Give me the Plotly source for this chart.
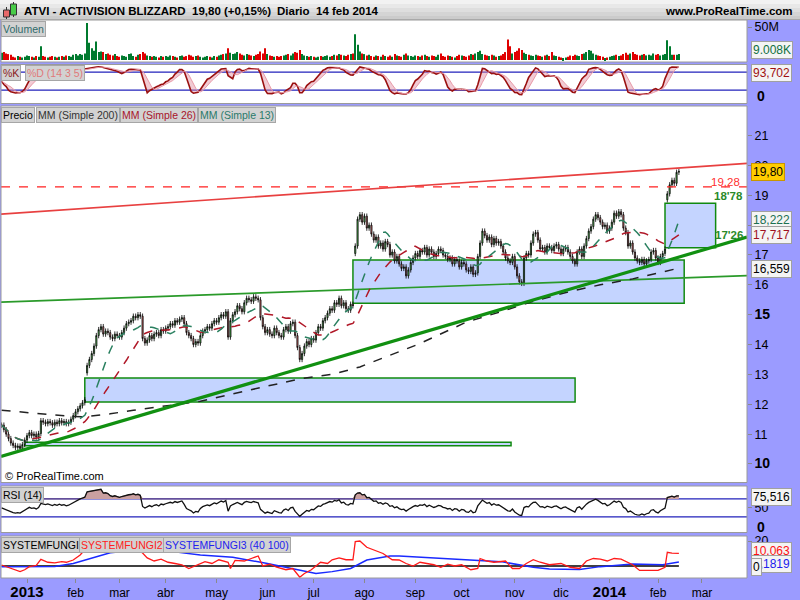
import numpy as np
import pandas as pd
import plotly.graph_objects as go

# ---------------- DATA ----------------
HOLIDAYS = ["2012-12-25", "2013-01-01", "2013-01-21", "2013-02-18", "2013-03-29",
            "2013-05-27", "2013-07-04", "2013-09-02", "2013-11-28", "2013-12-25",
            "2014-01-01", "2014-01-20", "2014-02-17"]
START_DATE = "2012-12-14"
END_AXIS_DATE = "2014-03-31"

CLOSES = [
    11.30, 11.15, 11.00, 10.85, 10.70, 10.62, 10.55, 10.60, 10.52, 10.65,
    10.80, 10.95, 11.05, 10.95, 11.00, 10.90, 11.02, 11.45, 11.40, 11.35,
    11.42, 11.38, 11.30, 11.40, 11.35, 11.45, 11.38, 11.42, 11.35, 11.40,
    11.50, 11.62, 11.75, 11.85, 11.95, 12.05, 12.15, 13.30, 13.50, 13.70,
    13.95, 14.30, 14.50, 14.60, 14.35, 14.45, 14.40, 14.25, 14.20, 14.35,
    14.30, 14.25, 14.40, 14.55, 14.70, 14.75, 14.80, 14.95, 14.90, 15.00,
    14.95, 14.20, 14.05, 14.15, 14.30, 14.20, 14.35, 14.40, 14.30, 14.50,
    14.45, 14.55, 14.60, 14.70, 14.65, 14.80, 14.75, 14.85, 14.90, 14.70,
    14.40, 14.30, 14.20, 14.00, 14.10, 14.05, 14.30, 14.45, 14.50, 14.60,
    14.55, 14.70, 14.80, 14.75, 14.90, 15.00, 14.95, 15.10, 14.25, 14.80,
    15.00, 15.10, 15.30, 15.20, 15.10, 15.40, 15.55, 15.50, 15.45, 15.60,
    15.55, 15.50, 14.90, 14.60, 14.40, 14.50, 14.35, 14.30, 14.55, 14.40,
    14.30, 14.25, 14.50, 14.60, 14.45, 14.70, 14.75, 14.30, 13.90, 13.50,
    13.70, 13.95, 14.10, 14.00, 14.20, 14.15, 14.40, 14.60, 14.55, 14.80,
    14.90, 15.05, 15.20, 15.15, 15.40, 15.35, 15.55, 15.30, 15.40, 15.20,
    15.15, 15.35, 15.30, 17.30, 18.20, 18.35, 18.10, 18.30, 17.90, 18.00,
    17.70, 17.50, 17.60, 17.30, 17.40, 17.20, 17.45, 17.35, 17.00, 17.10,
    16.80, 16.95, 16.70, 16.55, 16.60, 16.30, 16.50, 16.75, 16.90, 17.05,
    16.95, 17.15, 17.10, 17.25, 17.00, 17.20, 17.10, 16.95, 17.05, 17.20,
    17.15, 17.00, 16.95, 16.85, 16.90, 16.70, 16.85, 16.80, 16.60, 16.75,
    16.70, 16.50, 16.45, 16.60, 16.35, 16.40, 16.95, 17.40, 17.80, 17.65,
    17.50, 17.60, 17.35, 17.55, 17.40, 17.45, 17.30, 17.10, 16.90, 16.80,
    16.75, 16.95, 16.60, 16.30, 16.10, 16.05, 16.90, 17.05, 17.00, 17.40,
    17.70, 17.75, 17.50, 17.20, 17.25, 17.10, 17.30, 17.25, 17.15, 17.30,
    17.35, 17.20, 17.05, 17.20, 17.25, 17.10, 16.95, 16.80, 16.70, 17.10,
    17.20, 16.95, 17.30, 17.55, 17.80, 17.95, 18.20, 18.35, 18.25, 18.10,
    17.95, 18.00, 17.80, 17.90, 18.10, 18.40, 18.30, 18.45, 18.35, 17.90,
    17.75, 17.30, 17.40, 17.10, 16.90, 16.80, 16.75, 16.85, 16.70, 16.80,
    16.85, 17.10, 17.15, 16.90, 16.75, 16.95, 17.05, 17.20, 19.05, 19.35,
    19.50, 19.40, 19.77, 19.80,
]
GAP_OPEN_IDX = [37, 153, 288]
GAP_OPEN_VAL = [13.05, 17.05, 18.85]

VOLUMES = [
    11, 12, 10, 9, 8, 5, 4, 6, 5, 4, 5, 7, 6, 5, 4, 6, 5, 21, 6, 5,
    4, 5, 6, 5, 4, 5, 6, 5, 7, 6, 5, 8, 9, 7, 9, 8, 10, 56, 26, 18,
    14, 28, 12, 13, 12, 9, 10, 8, 7, 9, 6, 5, 7, 6, 5, 9, 10, 6, 5, 8,
    9, 12, 10, 7, 6, 5, 6, 5, 4, 6, 5, 6, 5, 7, 6, 5, 4, 6, 7, 5,
    6, 8, 7, 5, 6, 7, 5, 4, 5, 6, 5, 4, 6, 5, 7, 8, 9, 10, 18, 11,
    9, 10, 12, 10, 8, 7, 9, 8, 7, 6, 8, 9, 13, 10, 18, 9, 7, 6, 5, 6,
    5, 6, 7, 8, 9, 7, 10, 12, 11, 15, 9, 7, 6, 5, 6, 5, 4, 5, 6, 5,
    6, 7, 5, 6, 8, 7, 9, 8, 7, 6, 8, 9, 10, 39, 23, 13, 10, 9, 7, 8,
    6, 5, 7, 6, 5, 8, 6, 5, 7, 5, 9, 7, 6, 5, 8, 10, 7, 6, 5, 7,
    6, 5, 7, 8, 6, 5, 7, 6, 5, 8, 10, 6, 5, 7, 6, 5, 4, 6, 8, 7,
    6, 5, 7, 9, 8, 10, 12, 14, 9, 8, 7, 6, 8, 7, 5, 6, 7, 9, 12, 31,
    21, 10, 12, 14, 18, 15, 11, 9, 8, 7, 6, 8, 7, 6, 5, 7, 8, 6, 12, 7,
    6, 5, 4, 3, 4, 5, 7, 6, 8, 7, 6, 9, 10, 12, 15, 14, 10, 8, 7, 6,
    5, 3, 4, 5, 6, 7, 8, 6, 7, 9, 11, 8, 10, 12, 9, 8, 7, 8, 9, 7,
    8, 7, 10, 8, 9, 7, 8, 9, 30, 21, 8, 8, 8, 9,
]

MA200_IDX = [0, 14, 29, 36, 47, 57, 72, 86, 100, 115, 129, 144, 155, 180, 201, 216, 230, 247, 259, 273, 293]
MA200_VAL = [11.80, 11.70, 11.60, 11.58, 11.68, 11.80, 11.95, 12.10, 12.35, 12.60, 12.85, 13.02, 13.25,
             14.00, 14.75, 15.10, 15.45, 15.80, 16.00, 16.20, 16.56]

FUNGI2_IDX = [0, 4, 8, 10, 12, 15, 17, 20, 23, 26, 28, 31, 34, 36, 38, 43, 49, 56, 60, 61, 63, 66, 69, 72,
              75, 78, 81, 85, 88, 91, 94, 98, 99, 101, 105, 108, 111, 113, 116, 119, 123, 126, 129, 131,
              134, 138, 141, 143, 146, 149, 152, 153, 155, 158, 162, 165, 169, 172, 175, 178, 181, 187,
              190, 193, 196, 199, 203, 206, 207, 210, 213, 218, 221, 224, 227, 230, 233, 237, 242, 246,
              250, 253, 256, 259, 262, 265, 268, 271, 273, 276, 281, 284, 287, 288, 290, 293]
FUNGI2_VAL = [0.8, -1.9, -4.5, -3.0, -0.5, 0.5, 5.3, 3.0, 2.5, 3.5, 3.0, 4.8, 8.8, 13.0, 17.0, 20.0, 19.0,
              16.0, 12.0, 10.4, 6.5, 4.0, 5.5, 3.0, 2.0, 1.0, -2.0, 1.5, 3.5, 2.0, 5.0, 3.0, -2.0, 4.5,
              4.0, 6.0, 8.0, 0.0, 1.5, -1.0, -3.0, -2.0, -9.0, -6.0, -3.0, 3.0, 2.0, 5.0, 6.5, 5.0, 5.0,
              19.5, 20.0, 15.0, 12.0, 10.0, 5.0, 4.8, 2.0, 0.0, 3.0, 1.0, -1.0, 1.5, 0.0, 1.0, -3.0, -2.0,
              6.0, 4.0, 3.0, 4.0, -2.0, -2.0, 2.0, 5.0, 3.0, 1.0, 2.0, -1.0, -2.0, 4.0, 6.0, 5.5, 4.0,
              6.0, 5.5, 3.0, 1.0, -3.5, -3.5, -3.5, -1.0, 11.0, 10.3, 10.06]
FUNGI3_IDX = [0, 12, 23, 31, 37, 47, 60, 74, 86, 100, 115, 129, 136, 143, 151, 158, 168, 172, 187, 201,
              216, 230, 237, 250, 259, 273, 286, 293]
FUNGI3_VAL = [-0.5, -0.5, -0.3, 2.0, 5.3, 10.6, 13.0, 11.5, 8.8, 7.0, 2.0, -3.2, -5.9, -4.5, -2.0, 4.8,
              8.0, 8.0, 6.5, 4.8, 3.5, -1.0, -2.4, -2.7, -0.5, 1.6, 1.0, 3.2]

MONTH_LABELS = ["2013", "feb", "mar", "abr", "may", "jun", "jul", "ago", "sep", "oct", "nov", "dic",
                "2014", "feb", "mar"]
PRICE_TICKS = [10, 11, 12, 13, 14, 15, 16, 17, 18, 19, 20, 21]
PRICE_TICK_HIDDEN = [18]  # covered by value boxes in the reference

# drawn objects (trading-day index / price)
BOX_X0 = [152, 36, 10, 287]
BOX_X1 = [295.3, 248.1, 220.4, 308.9]
BOX_LO = [15.38, 12.08, 10.61, 17.24]
BOX_HI = [16.83, 12.88, 10.73, 18.73]
LINE_X = [-0.25, 322.47]
RESIST_Y = [18.37, 20.07]
SUPPORT_THIN_Y = [15.42, 16.31]
SUPPORT_THICK_Y = [10.25, 17.60]
LEVEL_RED = 19.28

# ---------------- COMPUTE ----------------
dates_all = pd.bdate_range(START_DATE, END_AXIS_DATE, freq="C", holidays=HOLIDAYS)
N = len(CLOSES)
idx = np.arange(N)
c = np.array(CLOSES, dtype=float)
o = np.r_[c[0], c[:-1]]
for gi, gv in zip(GAP_OPEN_IDX, GAP_OPEN_VAL):
    o[gi] = gv
WICK = 0.09
h = np.maximum(o, c) + WICK
l = np.minimum(o, c) - WICK
cs = pd.Series(c)
ma13 = cs.rolling(13, min_periods=1).mean()
ma26 = cs.rolling(26, min_periods=1).mean()
hh = pd.Series(h).rolling(14, min_periods=1).max()
ll = pd.Series(l).rolling(14, min_periods=1).min()
kraw = 100 * (cs - ll) / (hh - ll)
kk = kraw.rolling(3, min_periods=1).mean()
dd = kk.rolling(5, min_periods=1).mean()

# Wilder RSI with a neutral warm-up
ag, al = 0.12, 0.12
rsi = []
for i in range(N):
    d = c[i] - c[i - 1] if i > 0 else 0.0
    ag = (ag * 13 + max(d, 0)) / 14
    al = (al * 13 + max(-d, 0)) / 14
    rsi.append(100 - 100 / (1 + ag / al))
rsi = np.array(rsi)

# month tick positions
tick_pos = []
seen = set()
for i, d in enumerate(dates_all):
    key = (d.year, d.month)
    if key not in seen:
        seen.add(key)
        tick_pos.append(i)
tick_pos = tick_pos[1:1 + len(MONTH_LABELS)]  # skip Dec 2012
tick_text = []
for t in MONTH_LABELS:
    if t.isdigit():
        tick_text.append('<span style="font-size:15px"><b>%s</b></span>' % t)
    else:
        tick_text.append(t)

# ---------------- GEOMETRY ----------------
W, H = 800, 600
PL, PR, PT, PB = 1, 747, 20, 578


def fx(px):
    return (px - PL) / (PR - PL)


def fy(py):
    return (PB - py) / (PB - PT)


LAV = "#9b9bff"
FONT = "Arial, Liberation Sans, sans-serif"
D_VOL = [fy(62), 1.0]
D_STO = [fy(103.5), fy(64.5)]
D_PRI = [fy(482.5), fy(106)]
D_RSI = [fy(532.5), fy(486)]
D_FUN = [0.0, fy(536)]

fig = go.Figure()

# volume
vcol = ["#007a2e" if c[i] >= o[i] else "#e00000" for i in range(N)]
fig.add_trace(go.Bar(x=idx, y=VOLUMES, marker=dict(color=vcol, line=dict(width=0)), width=0.45,
                     yaxis="y2", xaxis="x", showlegend=False))
# stochastic
fig.add_trace(go.Scatter(x=idx, y=kk, mode="lines", line=dict(color="#9a1010", width=1.6), yaxis="y3"))
fig.add_trace(go.Scatter(x=idx, y=dd, mode="lines", line=dict(color="#e89aa8", width=1),
                         fill="tonexty", fillcolor="rgba(225,140,160,0.45)", yaxis="y3"))
# price: trend objects
fig.add_trace(go.Scatter(x=LINE_X, y=[LEVEL_RED, LEVEL_RED], mode="lines",
                         line=dict(color="#ff2020", width=1.3, dash="dash"), yaxis="y"))
fig.add_trace(go.Scatter(x=LINE_X, y=RESIST_Y, mode="lines", line=dict(color="#e84040", width=1.6), yaxis="y"))
fig.add_trace(go.Scatter(x=LINE_X, y=SUPPORT_THIN_Y, mode="lines", line=dict(color="#2a9a2a", width=1.6), yaxis="y"))
# moving averages
fig.add_trace(go.Scatter(x=MA200_IDX, y=MA200_VAL, mode="lines", line=dict(color="#222222", width=1.5, dash="dash"), yaxis="y"))
fig.add_trace(go.Scatter(x=idx, y=ma26, mode="lines", line=dict(color="#b01828", width=1.5, dash="dash"), yaxis="y"))
fig.add_trace(go.Scatter(x=idx, y=ma13, mode="lines", line=dict(color="#2a8060", width=1.5, dash="dash"), yaxis="y"))
fig.add_trace(go.Scatter(x=LINE_X, y=SUPPORT_THICK_Y, mode="lines", line=dict(color="#119011", width=3.2), yaxis="y"))
# candles
fig.add_trace(go.Candlestick(x=idx, open=o, high=h, low=l, close=c, yaxis="y", xaxis="x",
                             increasing=dict(line=dict(color="#000000", width=0.8), fillcolor="#5ed65e"),
                             decreasing=dict(line=dict(color="#000000", width=0.8), fillcolor="#f07a7a"),
                             whiskerwidth=0, showlegend=False))
# RSI
fig.add_trace(go.Scatter(x=idx, y=[70] * N, mode="lines", line=dict(width=0), yaxis="y4", hoverinfo="skip"))
fig.add_trace(go.Scatter(x=idx, y=np.maximum(rsi, 70), mode="lines", line=dict(width=0.6, color="#7a4040"),
                         fill="tonexty", fillcolor="#caa0a0", yaxis="y4"))
fig.add_trace(go.Scatter(x=idx, y=rsi, mode="lines", line=dict(color="#111111", width=1.3), yaxis="y4"))
# fungi
fig.add_trace(go.Scatter(x=FUNGI3_IDX, y=FUNGI3_VAL, mode="lines", line=dict(color="#1a2aff", width=1.5), yaxis="y5"))
fig.add_trace(go.Scatter(x=FUNGI2_IDX, y=FUNGI2_VAL, mode="lines", line=dict(color="#ff1a1a", width=1.3), yaxis="y5"))

shapes = []
# boxes
for x0, x1, lo, hi in zip(BOX_X0, BOX_X1, BOX_LO, BOX_HI):
    shapes.append(dict(type="rect", xref="x", yref="y", x0=x0, x1=x1, y0=lo, y1=hi,
                       fillcolor="#c4d4ff", line=dict(color="#108a10", width=1.5), layer="below"))
# panel level lines
for lv in (80, 20):
    shapes.append(dict(type="line", xref="paper", yref="y3", x0=0, x1=1, y0=lv, y1=lv,
                       line=dict(color="#2222bb", width=1.3), layer="below"))
for lv in (70, 30):
    shapes.append(dict(type="line", xref="paper", yref="y4", x0=0, x1=1, y0=lv, y1=lv,
                       line=dict(color="#2222bb", width=1.3), layer="below"))
shapes.append(dict(type="line", xref="x", yref="y5", x0=0, x1=N - 1, y0=0, y1=0,
                   line=dict(color="#000000", width=1.3), layer="below"))
# panel borders
for d in (D_VOL, D_STO, D_PRI, D_RSI, D_FUN):
    shapes.append(dict(type="rect", xref="paper", yref="paper", x0=0, x1=1, y0=d[0], y1=d[1],
                       line=dict(color="#9a9a9a", width=1), fillcolor="rgba(0,0,0,0)", layer="above"))
# header gradient
grad = ["#f2f2f2", "#e8e8e8", "#dedede", "#d4d4d4", "#cbcbcb"]
for k, col in enumerate(grad):
    shapes.append(dict(type="rect", xref="paper", yref="paper", x0=fx(0), x1=fx(800),
                       y0=fy(4 * k + 4), y1=fy(4 * k), fillcolor=col, line=dict(width=0),
                       layer="below"))
shapes.append(dict(type="line", xref="paper", yref="paper", x0=fx(0), x1=fx(800), y0=fy(19.5), y1=fy(19.5),
                   line=dict(color="#a8a8a8", width=1)))
# header icon
shapes.append(dict(type="line", xref="paper", yref="paper", x0=fx(6.5), x1=fx(6.5), y0=fy(19), y1=fy(7),
                   line=dict(color="#333", width=1)))
shapes.append(dict(type="rect", xref="paper", yref="paper", x0=fx(3.5), x1=fx(9.5), y0=fy(17), y1=fy(10),
                   fillcolor="#e86a6a", line=dict(color="#333", width=1)))
shapes.append(dict(type="line", xref="paper", yref="paper", x0=fx(13.5), x1=fx(13.5), y0=fy(17), y1=fy(2),
                   line=dict(color="#333", width=1)))
shapes.append(dict(type="rect", xref="paper", yref="paper", x0=fx(10.5), x1=fx(16.5), y0=fy(15), y1=fy(4),
                   fillcolor="#48cc48", line=dict(color="#333", width=1)))

ann = []


def text(px, py, s, color="#000", size=12, bold=False, xanchor="left", yanchor="middle", bg=None,
         border=None, pad=1):
    a = dict(xref="paper", yref="paper", x=fx(px), y=fy(py), text=("<b>%s</b>" % s) if bold else s,
             showarrow=False, xanchor=xanchor, yanchor=yanchor,
             font=dict(family=FONT, size=size, color=color))
    if bg:
        a["bgcolor"] = bg
        a["borderpad"] = pad
    if border:
        a["bordercolor"] = border
        a["borderwidth"] = 1
    ann.append(a)


# header
text(22, 10.5, "ATVI - ACTIVISION BLIZZARD", bold=True, size=11.5)
text(190, 10.5, "19,80 (+0,15%)", bold=True, size=11.5)
text(275, 10.5, "Diario&nbsp;&nbsp;14 feb 2014", bold=True, size=11.5)
text(795, 10.5, "www.ProRealTime.com", bold=True, size=11.5, xanchor="right")

# panel labels
LBG, LBD = "#d2d2d2", "#a6a6a6"
LS = 10.5
text(1, 21, "Volumen", color="#2e6a6a", yanchor="top", bg=LBG, border=LBD, size=LS)
text(1, 65.5, "%K", color="#8b1a1a", yanchor="top", bg=LBG, border=LBD, size=LS)
text(25, 65.5, "%D (14 3 5)", color="#e07a7a", yanchor="top", bg=LBG, border=LBD, size=LS)
text(1, 107, "Precio", color="#000", yanchor="top", bg=LBG, border=LBD, size=LS)
text(36, 107, "MM (Simple 200)", color="#333", yanchor="top", bg=LBG, border=LBD, size=LS)
text(120, 107, "MM (Simple 26)", color="#a8142a", yanchor="top", bg=LBG, border=LBD, size=LS)
text(198, 107, "MM (Simple 13)", color="#2a7a6a", yanchor="top", bg=LBG, border=LBD, size=LS)
text(1, 486.5, "RSI (14)", color="#000", yanchor="top", bg=LBG, border=LBD, size=LS)
text(1, 537, "SYSTEMFUNGI", color="#000", yanchor="top", bg=LBG, border=LBD, size=LS)
text(79, 537, "SYSTEMFUNGI2", color="#ff2020", yanchor="top", bg=LBG, border=LBD, size=LS)
text(163, 537, "SYSTEMFUNGI3 (40 100)", color="#2222ee", yanchor="top", bg=LBG, border=LBD, size=LS)
text(3, 476, "© ProRealTime.com", size=11)

# level labels in price panel
text(742, 181.5, "19,28", color="#ff3030", size=11.5, xanchor="right")
text(745, 196, "18'78", color="#2a8a2a", size=11.5, xanchor="right", bold=True)
text(745, 235, "17'26", color="#2a8a2a", size=11.5, xanchor="right", bold=True)

# right axis value boxes
VB = "#f4f4f4"
VS = 12
text(751, 172, "19,80", bg="#ffcc00", border="#c89600", size=VS)
text(751, 219.5, "18,222", color="#1a7050", bg=VB, border="#a0a0a0", size=VS)
text(751, 235.5, "17,717", color="#a01020", bg=VB, border="#a0a0a0", size=VS)
text(751, 268.5, "16,559", color="#000", bg=VB, border="#a0a0a0", size=VS)
text(751, 50.5, "9.008K", color="#107040", bg=VB, border="#a0a0a0", size=VS)
text(751, 73, "93,702", color="#a01010", bg=VB, border="#a0a0a0", size=VS)
text(755, 96, "<b>0</b>", size=14)
text(751, 497, "75,516", color="#000", bg=VB, border="#a0a0a0", size=VS)
text(755, 527, "<b>0</b>", size=14)
text(751, 551, "10,063", color="#ff1010", bg=VB, border="#a0a0a0", size=VS)
text(751, 563.5, "3,1819", color="#2020ee", bg=VB, border="#a0a0a0", size=VS)
text(751, 566.5, "0", color="#000", bg=VB, border="#a0a0a0", size=VS)

price_text = []
for t in PRICE_TICKS:
    if t in PRICE_TICK_HIDDEN:
        price_text.append("")
    elif t in (10, 15):
        price_text.append('<span style="font-size:14px"><b>%d</b></span>' % t)
    else:
        price_text.append(str(t))

yax_common = dict(side="right", anchor="x", showgrid=False, zeroline=False, ticks="outside", ticklen=4,
                  tickcolor="#8a8a8a", tickfont=dict(family=FONT, size=12.5, color="#000"), showline=False,
                  fixedrange=True)

fig.update_layout(
    width=W, height=H,
    margin=dict(l=PL, r=W - PR, t=PT, b=H - PB),
    paper_bgcolor=LAV, plot_bgcolor="#ffffff",
    showlegend=False, shapes=shapes, annotations=ann,
    font=dict(family=FONT),
    xaxis=dict(domain=[0, 1], anchor="y5", range=[-0.25, 322.47], tickmode="array", tickvals=tick_pos,
               ticktext=tick_text, ticks="outside", ticklen=4, tickcolor="#8a8a8a", showgrid=False,
               zeroline=False, rangeslider=dict(visible=False),
               tickfont=dict(family=FONT, size=12, color="#000")),
    yaxis=dict(domain=D_PRI, range=[9.38, 21.99], tickmode="array", tickvals=PRICE_TICKS,
               ticktext=price_text, **yax_common),
    yaxis2=dict(domain=D_VOL, range=[-3, 60.6], tickmode="array", tickvals=[50], ticktext=["50M"], **yax_common),
    yaxis3=dict(domain=D_STO, range=[-24, 105], tickmode="array", tickvals=[], **yax_common),
    yaxis4=dict(domain=D_RSI, range=[-4.9, 98.9], tickmode="array", tickvals=[50], ticktext=["50"], **yax_common),
    yaxis5=dict(domain=D_FUN, range=[-9.6, 24], tickmode="array", tickvals=[20], ticktext=["20"], **yax_common),
)
for tr in fig.data:
    if isinstance(tr, go.Scatter):
        tr.showlegend = False

fig.write_html("out.html", config={"displayModeBar": False},
               post_script="document.body.style.margin='0';document.body.style.padding='0';")
